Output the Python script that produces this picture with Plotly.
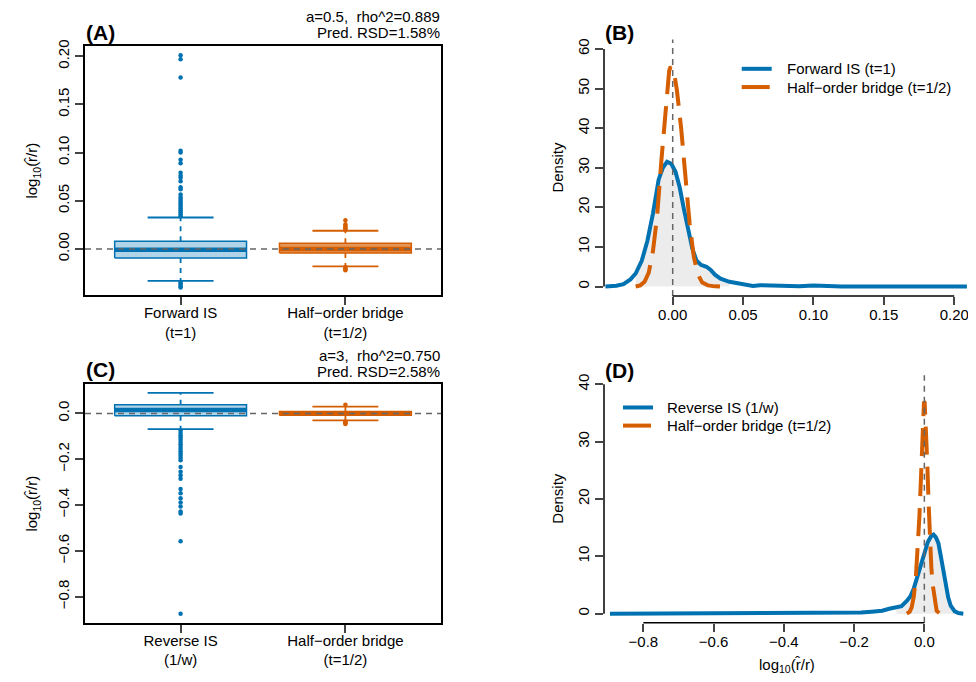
import plotly.graph_objects as go

BLUE = "#0072B2"
ORANGE = "#D55E00"
GREY = "#666666"
FONT = "Liberation Sans, Arial, sans-serif"

# ---- (A) boxplot summaries: forward IS (t=1) vs half-order bridge (t=1/2)
box_pos = [1, 2]
a_ticktext = ["Forward IS<br>(t=1)", "Half−order bridge<br>(t=1/2)"]
a_q1 = [-0.0096, -0.0044]
a_med = [-0.0008, 0.0]
a_q3 = [0.0079, 0.0059]
a_lo = [-0.0333, -0.0182]
a_hi = [0.0326, 0.0188]
a_out_fwd = [0.034, 0.036, 0.038, 0.040, 0.042, 0.044, 0.046, 0.048, 0.050, 0.052,
             0.054, 0.0566, 0.062, 0.064, 0.0703, 0.0738, 0.076, 0.079, 0.089, 0.0926,
             0.100, 0.102, 0.178, 0.197, 0.201,
             -0.0345, -0.036, -0.0375, -0.039, -0.040]
a_out_half = [0.0198, 0.021, 0.0225, 0.024, 0.0257, 0.0298,
              -0.0189, -0.0200, -0.0212, -0.0223]

# ---- (C) boxplot summaries: reverse IS (1/w) vs half-order bridge (t=1/2)
c_ticktext = ["Reverse IS<br>(1/w)", "Half−order bridge<br>(t=1/2)"]
c_q1 = [-0.0099, -0.008]
c_med = [0.015, 0.0]
c_q3 = [0.0376, 0.008]
c_lo = [-0.069, -0.030]
c_hi = [0.0895, 0.030]
c_out_rev = [-0.075, -0.085, -0.095, -0.105, -0.115, -0.125, -0.135, -0.145, -0.155,
             -0.165, -0.175, -0.185, -0.195, -0.205, -0.2335, -0.255, -0.27, -0.285,
             -0.33, -0.349, -0.37, -0.389, -0.406, -0.428, -0.437, -0.558, -0.874]
c_out_half = [0.0376, -0.035, -0.039, -0.043, -0.046]

# ---- (B) densities
b_fwd_x = [-0.0478, -0.040, -0.035, -0.030, -0.0263, -0.022, -0.018, -0.014, -0.010, -0.007,
           -0.004, -0.001, 0.002, 0.005, 0.008, 0.011, 0.014, 0.017, 0.020, 0.024,
           0.027, 0.030, 0.034, 0.0403, 0.046, 0.052, 0.057, 0.062, 0.068, 0.075,
           0.082, 0.090, 0.100, 0.108, 0.120, 0.150, 0.180, 0.197, 0.209]
b_fwd_y = [0.0, 0.2, 0.6, 1.8, 3.3, 6.5, 11.5, 18.5, 27.0, 30.0,
           31.5, 31.0, 29.0, 25.0, 19.5, 14.0, 9.5, 6.5, 5.5, 5.0,
           4.2, 3.0, 2.0, 1.2, 0.9, 0.6, 0.15, 0.35, 0.3, 0.15,
           0.05, 0.1, 0.25, 0.05, 0.0, 0.0, 0.05, 0.15, 0.0]
b_half_x = [-0.0263, -0.023, -0.020, -0.017, -0.014, -0.011, -0.008, -0.005, -0.0025, -0.0015,
            0.001, 0.003, 0.006, 0.009, 0.012, 0.015, 0.018, 0.021, 0.025, 0.030, 0.0336]
b_half_y = [0.0, 0.3, 1.2, 3.5, 9.0, 18.0, 32.0, 46.0, 54.5, 55.5,
            54.0, 49.5, 40.0, 28.0, 16.0, 7.5, 3.0, 1.0, 0.3, 0.05, 0.0]
b_band = [-0.0263, 0.0403]  # central 95% of forward IS

# ---- (D) densities
d_rev_x = [-0.895, -0.80, -0.60, -0.45, -0.35, -0.28, -0.22, -0.18, -0.15, -0.12,
           -0.10, -0.0795, -0.065, -0.050, -0.040, -0.030, -0.020, -0.010, 0.000, 0.010,
           0.020, 0.026, 0.033, 0.040, 0.047, 0.054, 0.061, 0.068, 0.075, 0.0866,
           0.097, 0.111]
d_rev_y = [0.0, 0.02, 0.03, 0.05, 0.05, 0.1, 0.1, 0.2, 0.35, 0.5,
           0.85, 1.1, 1.3, 2.2, 3.0, 4.4, 6.3, 8.3, 10.5, 12.5,
           13.6, 13.8, 13.3, 12.3, 10.0, 7.4, 4.8, 2.8, 1.4, 0.4,
           0.1, 0.0]
d_half_x = [-0.050, -0.042, -0.036, -0.030, -0.024, -0.019, -0.014, -0.010, -0.0065, -0.003,
            -0.001, 0.001, 0.004, 0.0085, 0.012, 0.016, 0.020, 0.024, 0.030, 0.035, 0.045]
d_half_y = [0.0, 0.3, 1.1, 3.0, 6.5, 11.0, 17.0, 23.0, 29.5, 35.0,
            37.0, 36.8, 33.5, 26.0, 19.5, 13.0, 8.0, 5.0, 1.8, 0.5, 0.0]
d_band = [-0.0795, 0.0866]  # central 95% of reverse IS

# page has an 8px body margin, so the figure is 8px smaller than the window
W, H, OFF = 968, 674, 8


def px(x):
    return (x - OFF) / W


def py(y):
    return 1 - (y - OFF) / H


fig = go.Figure()


def add_box(pos, q1, med, q3, lo, hi, outliers, color, fill, xa, ya):
    h, s = 0.4, 0.2
    fig.add_trace(go.Scatter(x=[pos - h, pos + h, pos + h, pos - h, pos - h],
                             y=[q1, q1, q3, q3, q1], mode="lines", fill="toself",
                             fillcolor=fill, line=dict(color=color, width=1.5),
                             xaxis=xa, yaxis=ya, showlegend=False, hoverinfo="skip"))
    fig.add_trace(go.Scatter(x=[pos - h, pos + h], y=[med, med], mode="lines",
                             line=dict(color=color, width=4.5),
                             xaxis=xa, yaxis=ya, showlegend=False))
    for a, b in ((q3, hi), (q1, lo)):
        fig.add_trace(go.Scatter(x=[pos, pos], y=[a, b], mode="lines",
                                 line=dict(color=color, width=1.8, dash="5px,5px"),
                                 xaxis=xa, yaxis=ya, showlegend=False))
        fig.add_trace(go.Scatter(x=[pos - s, pos + s], y=[b, b], mode="lines",
                                 line=dict(color=color, width=1.8),
                                 xaxis=xa, yaxis=ya, showlegend=False))
    fig.add_trace(go.Scatter(x=[pos] * len(outliers), y=outliers, mode="markers",
                             marker=dict(color=color, size=4.5),
                             xaxis=xa, yaxis=ya, showlegend=False))


fills = ["rgba(0,114,178,0.3)", "rgba(213,94,0,0.65)"]
cols = [BLUE, ORANGE]
a_outs = [a_out_fwd, a_out_half]
c_outs = [c_out_rev, c_out_half]
for i, p in enumerate(box_pos):
    add_box(p, a_q1[i], a_med[i], a_q3[i], a_lo[i], a_hi[i], a_outs[i], cols[i], fills[i], "x", "y")
    add_box(p, c_q1[i], c_med[i], c_q3[i], c_lo[i], c_hi[i], c_outs[i], cols[i], fills[i], "x3", "y3")


def add_density(bx, by, hx, hy, band, xa, ya):
    fx = [x for x in bx if band[0] <= x <= band[1]]
    fy = [y for x, y in zip(bx, by) if band[0] <= x <= band[1]]
    fig.add_trace(go.Scatter(x=fx, y=fy, mode="none", fill="tozeroy",
                             fillcolor="rgba(200,200,200,0.35)",
                             xaxis=xa, yaxis=ya, showlegend=False))
    fig.add_trace(go.Scatter(x=bx, y=by, mode="lines", line=dict(color=BLUE, width=4),
                             xaxis=xa, yaxis=ya, showlegend=False))
    fig.add_trace(go.Scatter(x=hx, y=hy, mode="lines",
                             line=dict(color=ORANGE, width=4, dash="28px,12px"),
                             xaxis=xa, yaxis=ya, showlegend=False))


add_density(b_fwd_x, b_fwd_y, b_half_x, b_half_y, b_band, "x2", "y2")
add_density(d_rev_x, d_rev_y, d_half_x, d_half_y, d_band, "x4", "y4")

XL = [px(85), px(441)]
XR = [px(604), px(970)]
tickfont = dict(family=FONT, size=15, color="black")

box_x = dict(range=[0.42, 2.58], tickvals=box_pos, showline=True, mirror=True,
             linecolor="black", linewidth=1.5, ticks="outside", ticklen=8, tickwidth=1.5,
             ticklabelstandoff=-5,
             showgrid=False, zeroline=False, tickfont=tickfont, domain=XL)
box_y = dict(showline=True, mirror=True, linecolor="black", linewidth=1.5,
             ticks="outside", ticklen=8, tickwidth=1.5, tickangle=-90,
             showgrid=False, zeroline=False, tickfont=tickfont, domain=XL)

a_yticks = [0.0, 0.05, 0.10, 0.15, 0.20]
c_yticks = [-0.8, -0.6, -0.4, -0.2, 0.0]
b_xticks = [0.0, 0.05, 0.10, 0.15, 0.20]
b_yticks = [0, 10, 20, 30, 40, 50, 60]
d_xticks = [-0.8, -0.6, -0.4, -0.2, 0.0]
d_yticks = [0, 10, 20, 30, 40]


def fmt(v, nd):
    return f"{v:.{nd}f}".replace("-", "−")


dens_ax = dict(showline=False, ticks="outside", ticklen=8, tickwidth=1.5,
               showgrid=False, zeroline=False, tickfont=tickfont)

fig.update_layout(
    width=W, height=H, margin=dict(l=0, r=0, t=0, b=0),
    plot_bgcolor="white", paper_bgcolor="white",
    font=dict(family=FONT, size=15, color="black"),
    xaxis={**box_x, "ticktext": a_ticktext, "anchor": "y"},
    yaxis={**box_y, "domain": [py(292), py(40)], "range": [-0.0484, 0.211],
           "tickvals": a_yticks, "ticktext": [fmt(v, 2) for v in a_yticks], "anchor": "x"},
    xaxis3={**box_x, "ticktext": c_ticktext, "anchor": "y3"},
    yaxis3={**box_y, "domain": [py(622.3), py(381.7)], "range": [-0.914, 0.1267],
            "tickvals": c_yticks, "ticktext": [fmt(v, 1) for v in c_yticks], "anchor": "x3"},
    xaxis2={**dens_ax, "domain": XR, "range": [-0.0488, 0.2112], "anchor": "y2",
            "tickvals": b_xticks, "ticktext": [fmt(v, 2) for v in b_xticks],
            "ticklabelstandoff": -3},
    yaxis2={**dens_ax, "domain": [py(292.6), py(33.7)], "range": [-2.4, 62.4], "anchor": "x2",
            "tickvals": b_yticks, "ticktext": [str(v) for v in b_yticks], "tickangle": -90},
    xaxis4={**dens_ax, "domain": XR, "range": [-0.912, 0.130], "anchor": "y4",
            "tickvals": d_xticks, "ticktext": [fmt(v, 1) for v in d_xticks],
            "ticklabelstandoff": -3},
    yaxis4={**dens_ax, "domain": [py(622.3), py(372.4)], "range": [-1.6, 41.6], "anchor": "x4",
            "tickvals": d_yticks, "ticktext": [str(v) for v in d_yticks], "tickangle": -90},
)

# reference lines at zero
zero_line = dict(color=GREY, width=1.5, dash="6px,5px")
for xa, ya in (("x", "y"), ("x3", "y3")):
    fig.add_shape(type="line", xref=f"{xa} domain", yref=ya, x0=0, x1=1, y0=0, y1=0,
                  line=zero_line, layer="above")
for xa, ya in (("x2", "y2"), ("x4", "y4")):
    fig.add_shape(type="line", xref=xa, yref=f"{ya} domain", x0=0, x1=0, y0=0, y1=1,
                  line=zero_line, layer="above")

# R-style axis lines spanning only the tick range
axis_line = dict(color="black", width=1.5)
for xa, ya, xt, yt in (("x2", "y2", b_xticks, b_yticks), ("x4", "y4", d_xticks, d_yticks)):
    fig.add_shape(type="line", xref=xa, yref=f"{ya} domain", x0=min(xt), x1=max(xt),
                  y0=0, y1=0, line=axis_line)
    fig.add_shape(type="line", xref=f"{xa} domain", yref=ya, x0=0, x1=0,
                  y0=min(yt), y1=max(yt), line=axis_line)

ann = []


def text(x, y, s, xanchor="center", size=15, bold=False, angle=0):
    ann.append(dict(x=px(x), y=py(y), xref="paper", yref="paper",
                    text=f"<b>{s}</b>" if bold else s,
                    showarrow=False, xanchor=xanchor, yanchor="middle", textangle=angle,
                    font=dict(family=FONT, size=size, color="black")))


text(84, 27, "(A)", "left", 21, True)
text(603, 26.7, "(B)", "left", 21, True)
text(84, 367, "(C)", "left", 21, True)
text(603, 368, "(D)", "left", 21, True)
text(442, 11, "a=0.5,&nbsp;&nbsp;rho^2=0.889", "right")
text(442, 26.7, "Pred. RSD=1.58%", "right")
text(442, 352.7, "a=3,&nbsp;&nbsp;rho^2=0.750", "right")
text(442, 368.3, "Pred. RSD=2.58%", "right")
ylab = "log<sub>10</sub>(r\u0302/r)"
text(33, 166, ylab, angle=-90)
text(33, 502, ylab, angle=-90)
text(558, 163, "Density", angle=-90)
text(558, 497, "Density", angle=-90)
text(787, 665, ylab)

# legends
legend_rows = [
    (741.7, 771.7, 785, [63.3, 81.7], ["Forward IS (t=1)", "Half−order bridge (t=1/2)"]),
    (623, 653, 665, [405, 423.3], ["Reverse IS (1/w)", "Half−order bridge (t=1/2)"]),
]
for x0, x1, xt, ys, labels in legend_rows:
    for (y, lab, col, dash) in zip(ys, labels, cols, ["solid", "28px,12px"]):
        fig.add_shape(type="line", xref="paper", yref="paper", x0=px(x0), x1=px(x1),
                      y0=py(y), y1=py(y), line=dict(color=col, width=4, dash=dash))
        text(xt, y, lab, "left")

fig.update_layout(annotations=ann)
fig.write_html("out.html")
